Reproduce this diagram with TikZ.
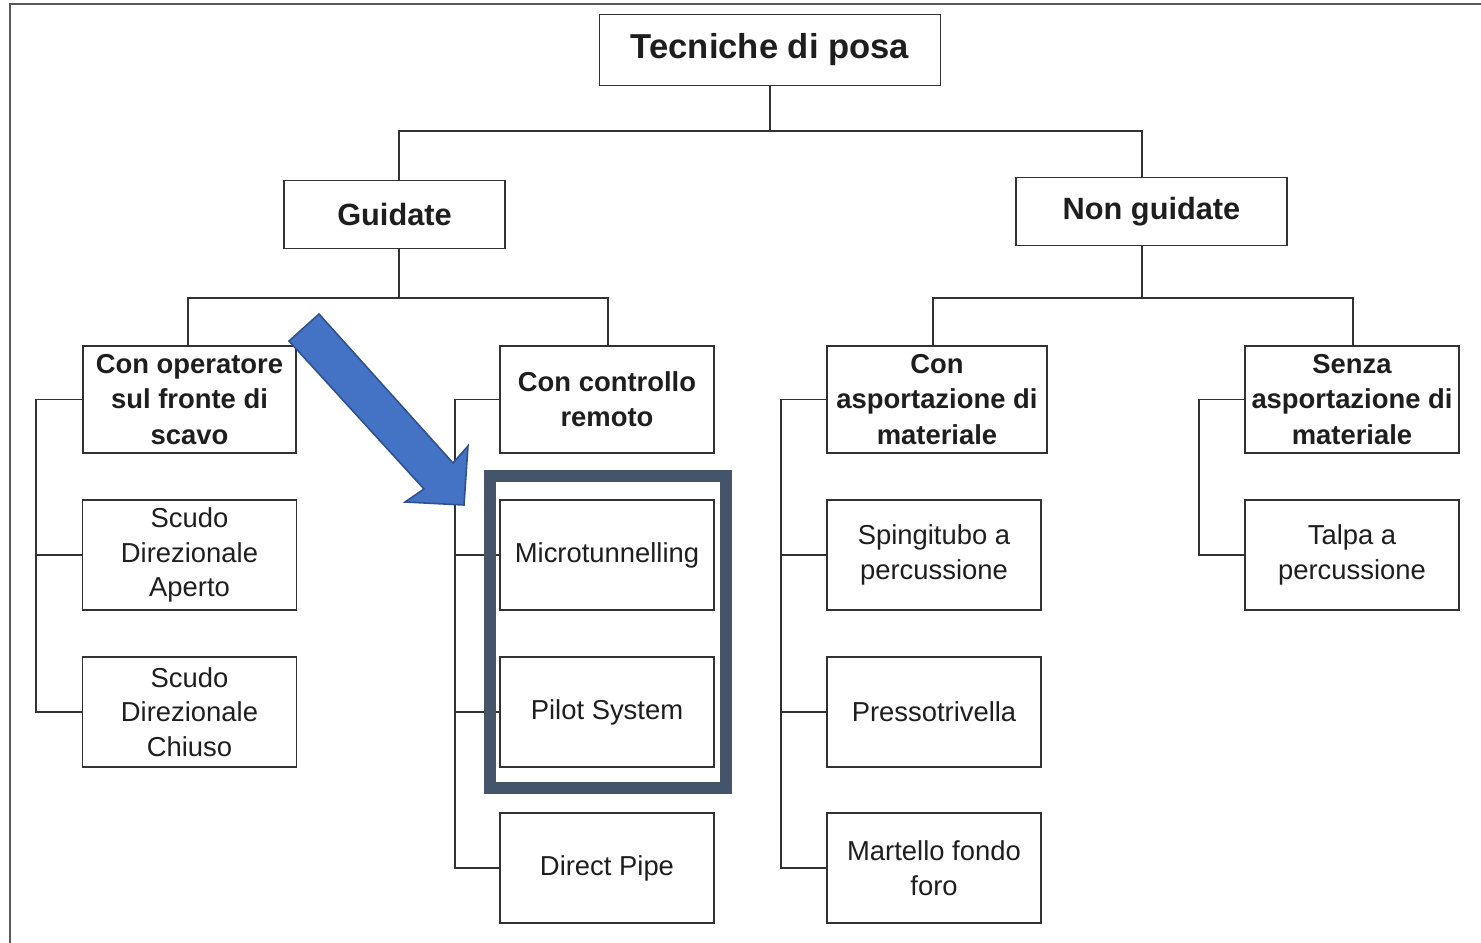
\documentclass[tikz,border=0pt]{standalone}
\usepackage{fontspec}
\setmainfont{Liberation Sans}
\usepackage{tikz}
\usetikzlibrary{calc}
\definecolor{linea}{RGB}{50,50,50}
\definecolor{testo}{RGB}{30,30,30}
\definecolor{ardesia}{RGB}{68,84,106}
\definecolor{freccia}{RGB}{68,114,196}
\definecolor{bordofreccia}{RGB}{47,82,143}
\tikzset{
  scatola/.style={draw=linea,line width=0.8pt,text=testo,align=center,inner sep=0pt},
  radice/.style={scatola,minimum width=6.82cm,minimum height=1.42cm,font=\fontsize{19.7}{23}\selectfont\bfseries},
  livuno/.style={scatola,minimum height=1.36cm,font=\fontsize{17.5}{21}\selectfont\bfseries},
  livdue/.style={scatola,minimum width=4.28cm,minimum height=2.14cm,font=\fontsize{15.6}{20}\selectfont\bfseries},
  foglia/.style={scatola,minimum width=4.28cm,minimum height=2.2cm,font=\fontsize{15.6}{19.6}\selectfont},
  ramo/.style={draw=linea,line width=0.8pt}
}
\begin{document}
\begin{tikzpicture}[x=0.02cm,y=-0.02cm]
\useasboundingbox (0,0) rectangle (1481,943);
\fill[white] (0,0) rectangle (1481,943);
% cornice
\draw[line width=1.2pt,color=black!65] (10,943) -- (10,4) -- (1481,4);

% radice e primo livello
\node[radice] (tec) at (770,50) {\raisebox{-2pt}{Tecniche di posa}};
\node[livuno,minimum width=4.42cm] (gui) at (394.5,214.5) {Guidate};
\node[livuno,minimum width=5.42cm] (ngu) at (1151.5,211.5) {Non guidate};

% secondo livello
\node[livdue,minimum width=4.26cm] (ope) at (189.5,399.5) {Con operatore\\sul fronte di\\scavo};
\node[livdue] (rem) at (607,399.5) {Con controllo\\remoto};
\node[livdue,minimum width=4.4cm] (con) at (937,399.5) {Con\\asportazione di\\materiale};
\node[livdue] (sen) at (1352,399.5) {Senza\\asportazione di\\materiale};

% foglie
\node[foglia] (sda) at (189.5,555) {Scudo\\Direzionale\\Aperto};
\node[foglia] (sdc) at (189.5,712) {Scudo\\Direzionale\\Chiuso};
\node[foglia] (mic) at (607,555) {Microtunnelling};
\node[foglia] (pil) at (607,712) {Pilot System};
\node[foglia] (dir) at (607,868) {Direct Pipe};
\node[foglia] (spi) at (934,555) {Spingitubo a\\percussione};
\node[foglia] (pre) at (934,712) {Pressotrivella};
\node[foglia] (mar) at (934,868) {Martello fondo\\foro};
\node[foglia] (tal) at (1352,555) {Talpa a\\percussione};

% rami dall'alto
\coordinate (b0) at (770,131);
\coordinate (bg) at (399,131);
\coordinate (bn) at (1142,131);
\draw[ramo] (tec.south) -- (b0);
\draw[ramo] (bg |- gui.north) -- (bg) -- (bn) -- (bn |- ngu.north);
\coordinate (g0) at (399,298);
\coordinate (n0) at (1142,298);
\draw[ramo] (g0 |- gui.south) -- (g0);
\draw[ramo] (n0 |- ngu.south) -- (n0);
\coordinate (ga) at (188,298);
\coordinate (gb) at (608,298);
\coordinate (na) at (933,298);
\coordinate (nb) at (1353,298);
\draw[ramo] (ga |- ope.north) -- (ga) -- (gb) -- (gb |- rem.north);
\draw[ramo] (na |- con.north) -- (na) -- (nb) -- (nb |- sen.north);

% rami laterali
\coordinate (k1) at (36,0);
\coordinate (k2) at (455,0);
\coordinate (k3) at (781,0);
\coordinate (k4) at (1199,0);
\draw[ramo] (ope.west) -- (ope.west -| k1) |- (sdc.west);
\draw[ramo] (sda.west) -- (sda.west -| k1);
\draw[ramo] (rem.west) -- (rem.west -| k2) |- (dir.west);
\foreach \f in {mic,pil} {\draw[ramo] (\f.west) -- (\f.west -| k2);}
\draw[ramo] (con.west) -- (con.west -| k3) |- (mar.west);
\foreach \f in {spi,pre} {\draw[ramo] (\f.west) -- (\f.west -| k3);}
\draw[ramo] (sen.west) -- (sen.west -| k4) |- (tal.west);

% evidenziazione
\draw[ardesia,line width=6.8pt] (490,476) rectangle (726,788);
\draw[fill=freccia,draw=bordofreccia,line width=0.9pt,line join=miter]
  (289,341) -- (319,314) -- (453,463) -- (468,446) -- (464,505) -- (405,502) -- (424,489) -- cycle;
\end{tikzpicture}
\end{document}
